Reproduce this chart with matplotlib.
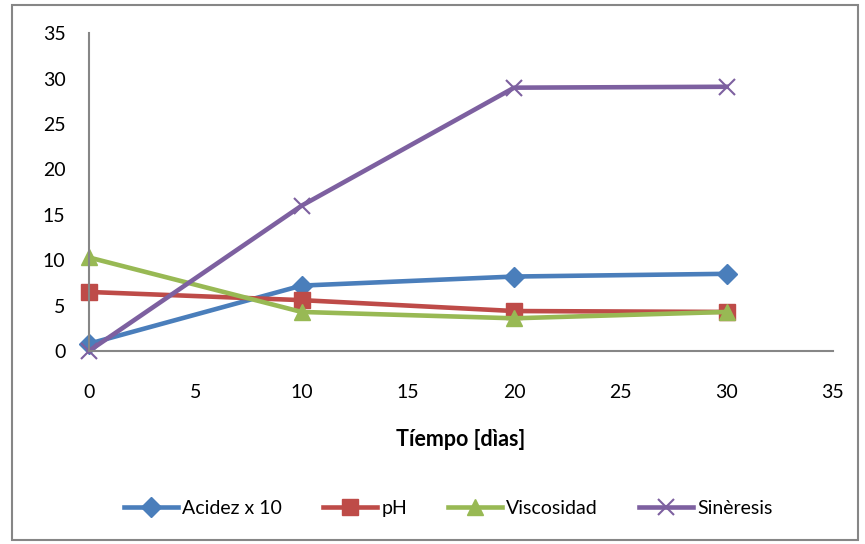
import matplotlib.pyplot as plt
from matplotlib.patches import Rectangle

dias = [0, 10, 20, 30]
acidez = [0.8, 7.2, 8.2, 8.5]
ph = [6.5, 5.6, 4.4, 4.3]
viscosidad = [10.3, 4.3, 3.6, 4.3]
sineresis = [0.0, 16.0, 29.0, 29.1]

plt.rcParams['font.family'] = ['Lato', 'DejaVu Sans']
plt.rcParams['font.size'] = 14

fig = plt.figure(figsize=(8.65, 5.44), dpi=100)
ax = fig.add_axes([0.1029, 0.3548, 0.8601, 0.5842])

ax.plot(dias, acidez, color='#4A7EBB', lw=3.3, marker='D', ms=10, label='Acidez x 10')
ax.plot(dias, ph, color='#BE4B48', lw=3.3, marker='s', ms=11, label='pH')
ax.plot(dias, viscosidad, color='#98B954', lw=3.3, marker='^', ms=12, label='Viscosidad')
ax.plot(dias, sineresis, color='#7D60A0', lw=3.3, marker='x', ms=12, mew=1.5, label='Sinèresis')

ax.set_xlim(0, 35)
ax.set_ylim(0, 35)
ax.set_xticks(range(0, 36, 5))
ax.set_yticks(range(0, 36, 5))
ax.tick_params(length=0)
ax.tick_params(axis='x', pad=24)
ax.tick_params(axis='y', pad=17)
for s in ['top', 'right']:
    ax.spines[s].set_visible(False)
for s in ['left', 'bottom']:
    ax.spines[s].set_color('#868686')
    ax.spines[s].set_linewidth(1.5)
for ln in ax.lines:
    ln.set_clip_on(False)

ax.set_xlabel('Tíempo [dìas]', fontweight='bold', fontsize=15.5, labelpad=20)

fig.legend(loc='center', bbox_to_anchor=(0.518, 0.066), ncol=4, frameon=False,
           handlelength=2.8, columnspacing=2.1, handletextpad=0.2)

fig.patches.append(Rectangle((12 / 865, 4 / 544), 846 / 865, 535 / 544,
                             transform=fig.transFigure, fill=False,
                             edgecolor='#868686', lw=1.5))

fig.savefig('out.png', dpi=100)
